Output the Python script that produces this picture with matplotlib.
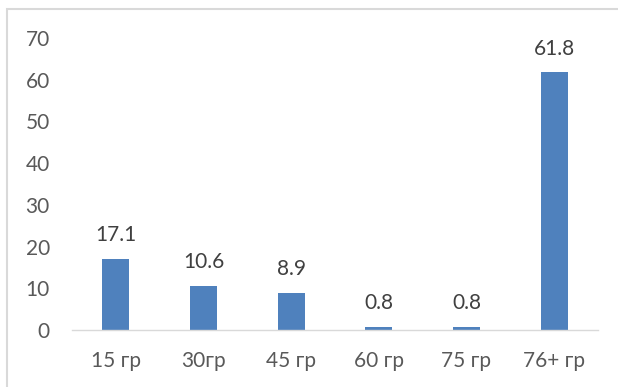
import matplotlib
matplotlib.use('Agg')
import matplotlib.pyplot as plt
from matplotlib.patches import Rectangle

# Данные
groups = ['15 гр', '30гр', '45 гр', '60 гр', '75 гр', '76+ гр']
values = [17.1, 10.6, 8.9, 0.8, 0.8, 61.8]
yticks = [0, 10, 20, 30, 40, 50, 60, 70]

plt.rcParams['font.family'] = ['Lato', 'Open Sans', 'DejaVu Sans']

fig = plt.figure(figsize=(6.18, 3.87), dpi=100)
ax = fig.add_axes([72/618, 57/387, 526/618, 292/387])

x = range(len(groups))
bars = ax.bar(x, values, width=0.31, color='#4F81BD')

# подписи значений над столбиками
for b, v in zip(bars, values):
    ax.annotate(f'{v:.1f}', (b.get_x() + b.get_width()/2, v),
                xytext=(0, 17), textcoords='offset points',
                ha='center', va='center', fontsize=15, color='#404040')

ax.set_xlim(-0.5, len(groups) - 0.5)
ax.set_ylim(0, 70)
ax.set_yticks(yticks)
ax.set_xticks(list(x))
ax.set_xticklabels(groups)
ax.tick_params(axis='both', length=0, labelsize=15, colors='#595959')
ax.tick_params(axis='y', pad=16)
ax.tick_params(axis='x', pad=15)

for s in ['top', 'right', 'left']:
    ax.spines[s].set_visible(False)
ax.spines['bottom'].set_color('#D9D9D9')
ax.spines['bottom'].set_linewidth(1)

# рамка области диаграммы
fig.patches.append(Rectangle((7/618, -0.1), 1.0, (387 - 9)/387 + 0.1,
                             transform=fig.transFigure, fill=False,
                             edgecolor='#D9D9D9', linewidth=1.5))

fig.savefig('out.png', dpi=100)
